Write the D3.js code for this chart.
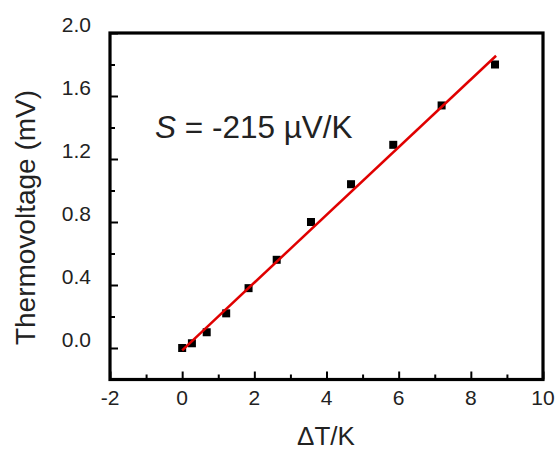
<!DOCTYPE html>
<html>
<head>
<meta charset="utf-8">
<script src="https://cdn.jsdelivr.net/npm/d3@7"></script>
<style>
  html, body { margin: 0; padding: 0; background: #fff; }
  svg { display: block; }
  text { font-family: "Liberation Sans", Arial, sans-serif; fill: #222; }
</style>
</head>
<body>
<svg id="chart" width="556" height="450"></svg>
<script>
// Measured thermovoltage vs. temperature difference
const deltaT = [0, 0.27, 0.68, 1.22, 1.84, 2.62, 3.57, 4.68, 5.85, 7.19, 8.67];
const voltage = [0, 0.03, 0.10, 0.22, 0.38, 0.56, 0.80, 1.04, 1.29, 1.54, 1.80];

// Linear fit: slope 215 µV/K = 0.215 mV/K
const fitSlope = 0.215;
const fitIntercept = -0.015;
const fitRange = [0, 8.7];

const xTicks = [-2, 0, 2, 4, 6, 8, 10];
const xMinor = [-1, 1, 3, 5, 7, 9];
const yTicks = [0.0, 0.4, 0.8, 1.2, 1.6, 2.0];
const yMinor = [0.2, 0.6, 1.0, 1.4, 1.8];

const svg = d3.select("#chart");
const plotLeft = 110, plotRight = 543, plotTop = 33, plotBottom = 379.5;

const x = d3.scaleLinear().domain([-2, 10]).range([plotLeft, plotRight]);
const y = d3.scaleLinear().domain([-0.2, 2.0]).range([plotBottom, plotTop]);

// Inward ticks along the bottom and left edges
const xAxis = d3.axisBottom(x).tickValues(xTicks).tickSize(-8).tickFormat("");
const xAxisMinor = d3.axisBottom(x).tickValues(xMinor).tickSize(-5).tickFormat("");
const yAxis = d3.axisLeft(y).tickValues(yTicks).tickSize(-8).tickFormat("");
const yAxisMinor = d3.axisLeft(y).tickValues(yMinor).tickSize(-5).tickFormat("");

[[xAxis, `translate(0,${plotBottom})`], [xAxisMinor, `translate(0,${plotBottom})`],
 [yAxis, `translate(${plotLeft},0)`], [yAxisMinor, `translate(${plotLeft},0)`]].forEach(([ax, tr]) => {
  const g = svg.append("g").attr("transform", tr).call(ax);
  g.select(".domain").remove();
  g.selectAll(".tick line").attr("stroke", "#000").attr("stroke-width", 2);
});

// Tick labels
svg.append("g").selectAll("text").data(xTicks).join("text")
  .attr("x", d => x(d)).attr("y", 405)
  .attr("text-anchor", "middle").attr("font-size", 21)
  .text(d => d);

svg.append("g").selectAll("text").data(yTicks).join("text")
  .attr("x", 91).attr("y", d => y(d) - 1)
  .attr("text-anchor", "end").attr("font-size", 21)
  .text(d => d3.format(".1f")(d));

// Frame
svg.append("rect")
  .attr("x", plotLeft).attr("y", plotTop)
  .attr("width", plotRight - plotLeft).attr("height", plotBottom - plotTop)
  .attr("fill", "none").attr("stroke", "#000").attr("stroke-width", 3.2);

// Data points
svg.append("g").selectAll("rect").data(deltaT).join("rect")
  .attr("x", d => x(d) - 4).attr("y", (d, i) => y(voltage[i]) - 4)
  .attr("width", 8).attr("height", 8).attr("fill", "#000");

// Fit line
const line = d3.line().x(d => x(d)).y(d => y(fitIntercept + fitSlope * d));
svg.append("path").datum(fitRange)
  .attr("d", line).attr("fill", "none")
  .attr("stroke", "#e00000").attr("stroke-width", 2.5);

// Annotation
const ann = svg.append("text").attr("x", 155).attr("y", 138).attr("font-size", 31.5);
ann.append("tspan").attr("font-style", "italic").text("S");
ann.append("tspan").text(" = -215 µV/K");

// Axis titles
svg.append("text")
  .attr("transform", "translate(35,217.5) rotate(-90)")
  .attr("text-anchor", "middle").attr("font-size", 28)
  .text("Thermovoltage (mV)");

svg.append("text")
  .attr("x", 326).attr("y", 445)
  .attr("text-anchor", "middle").attr("font-size", 26)
  .text("ΔT/K");
</script>
</body>
</html>
